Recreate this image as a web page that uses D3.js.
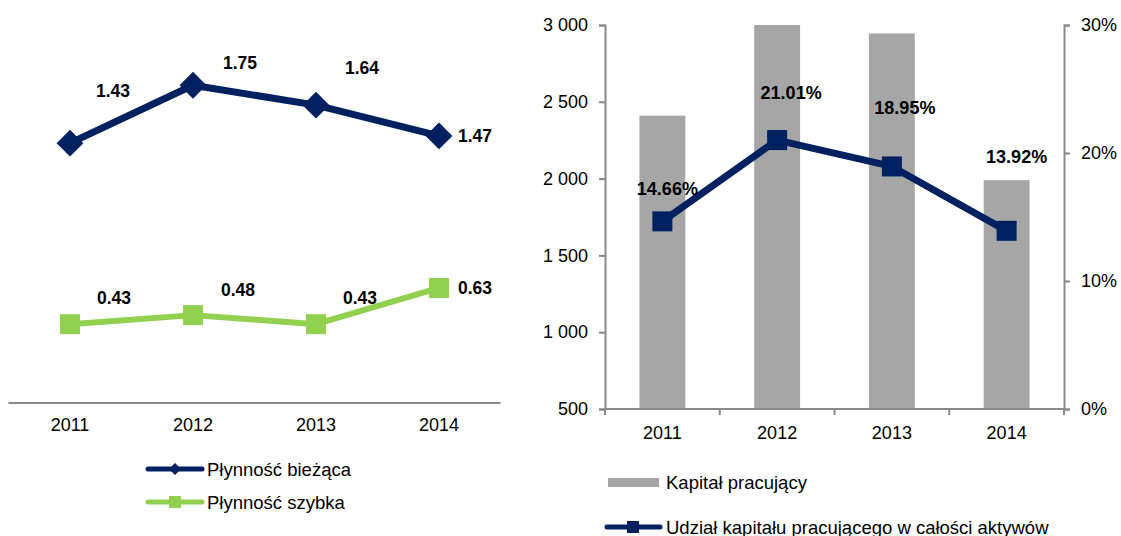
<!DOCTYPE html>
<html><head><meta charset="utf-8">
<script src="https://cdn.jsdelivr.net/npm/d3@7"></script>
<style>
html,body{margin:0;padding:0;background:#fff;}
svg{display:block;font-family:"Liberation Sans",Arial,sans-serif;}
</style></head>
<body>
<svg id="chart" width="1121" height="536"></svg>
<script>
// ---- data ----
const years = ["2011", "2012", "2013", "2014"];
const plynnoscBiezaca = [1.43, 1.75, 1.64, 1.47];
const plynnoscSzybka = [0.43, 0.48, 0.43, 0.63];
const kapitalPracujacy = [2410, 3000, 2945, 1990];
const udzialKapitalu = [0.1466, 0.2101, 0.1895, 0.1392];
const leftTicks = [500, 1000, 1500, 2000, 2500, 3000];
const rightTicks = [0, 0.1, 0.2, 0.3];
const seriesNames = ["Płynność bieżąca", "Płynność szybka", "Kapitał pracujący", "Udział kapitału pracującego w całości aktywów"];

// ---- layout (label offsets, px) ----
const offBiez = [[43,-52],[47,-22],[46,-37],[36,0]];
const offSzyb = [[44,-26],[45,-25],[44,-26],[36,0]];
const offUdz = [[5,-32],[14,-47],[13,-58],[10,-74]];

const navy = "#002060", green = "#92D050", barGrey = "#A6A6A6", axisGrey = "#898989";
const svg = d3.select("#chart");
const fmtSpace = d => d3.format(",")(d).replace(/,/g, " ");

// ===== LEFT CHART =====
const xL = d3.scaleBand().domain(years).range([8.5, 500.5]);
const yL = d3.scaleLinear().domain([0, 2]).range([402, 40]);
const gL = svg.append("g");
gL.append("line").attr("x1", 8.5).attr("x2", 500.5).attr("y1", 403).attr("y2", 403)
  .attr("stroke", axisGrey).attr("stroke-width", 2);
gL.selectAll("text.xl").data(years).join("text")
  .attr("x", d => xL(d) + xL.bandwidth()/2).attr("y", 425)
  .attr("text-anchor", "middle").attr("dominant-baseline", "central")
  .attr("font-size", 18).attr("fill", "#000").text(d => d);

const cx = (d,i) => xL(years[i]) + xL.bandwidth()/2;
const lineL = d3.line().x((d,i) => cx(d,i)).y(d => yL(d));
gL.append("path").datum(plynnoscBiezaca).attr("d", lineL)
  .attr("fill", "none").attr("stroke", navy).attr("stroke-width", 7).attr("stroke-linejoin", "round");
gL.append("path").datum(plynnoscSzybka).attr("d", lineL)
  .attr("fill", "none").attr("stroke", green).attr("stroke-width", 6).attr("stroke-linejoin", "round");
gL.selectAll("path.dia").data(plynnoscBiezaca).join("path")
  .attr("d", d3.symbol(d3.symbolSquare, 360)).attr("fill", navy)
  .attr("transform", (d,i) => `translate(${cx(d,i)},${yL(d)}) rotate(45)`);
gL.selectAll("rect.sq").data(plynnoscSzybka).join("rect")
  .attr("x", (d,i) => cx(d,i) - 10).attr("y", d => yL(d) - 10)
  .attr("width", 20).attr("height", 20).attr("fill", green);
gL.selectAll("text.lb").data(plynnoscBiezaca).join("text")
  .attr("x", (d,i) => cx(d,i) + offBiez[i][0]).attr("y", (d,i) => yL(d) + offBiez[i][1])
  .attr("text-anchor", "middle").attr("dominant-baseline", "central")
  .attr("font-size", 17.5).attr("font-weight", "bold").text(d => d.toFixed(2));
gL.selectAll("text.ls").data(plynnoscSzybka).join("text")
  .attr("x", (d,i) => cx(d,i) + offSzyb[i][0]).attr("y", (d,i) => yL(d) + offSzyb[i][1])
  .attr("text-anchor", "middle").attr("dominant-baseline", "central")
  .attr("font-size", 17.5).attr("font-weight", "bold").text(d => d.toFixed(2));

// left legend
const lg = svg.append("g");
lg.append("line").attr("x1", 148).attr("x2", 202).attr("y1", 469).attr("y2", 469)
  .attr("stroke", navy).attr("stroke-width", 5).attr("stroke-linecap", "round");
lg.append("path").attr("d", d3.symbol(d3.symbolSquare, 72)).attr("fill", navy)
  .attr("transform", "translate(175,469) rotate(45)");
lg.append("text").attr("x", 207).attr("y", 469).attr("dominant-baseline", "central")
  .attr("font-size", 18.5).text(seriesNames[0]);
lg.append("line").attr("x1", 148).attr("x2", 202).attr("y1", 502).attr("y2", 502)
  .attr("stroke", green).attr("stroke-width", 5).attr("stroke-linecap", "round");
lg.append("rect").attr("x", 169).attr("y", 496).attr("width", 12).attr("height", 12).attr("fill", green);
lg.append("text").attr("x", 207).attr("y", 502).attr("dominant-baseline", "central")
  .attr("font-size", 18.5).text(seriesNames[1]);

// ===== RIGHT CHART =====
const x0 = 605, x1 = 1064, yTop = 25, yBot = 409;
const xR = d3.scaleBand().domain(years).range([x0, x1]).paddingInner(0.6).paddingOuter(0.3);
const xRc = d3.scaleBand().domain(years).range([x0, x1]);
const yR = d3.scaleLinear().domain([500, 3000]).range([yBot, yTop]).clamp(true);
const yP = d3.scaleLinear().domain([0, 0.3]).range([yBot, yTop]);
const gR = svg.append("g");

gR.selectAll("rect.bar").data(kapitalPracujacy).join("rect")
  .attr("x", (d,i) => xR(years[i])).attr("width", xR.bandwidth())
  .attr("y", d => yR(d)).attr("height", d => yBot - yR(d)).attr("fill", barGrey);

// axes
const axL = d3.axisLeft(yR).tickValues(leftTicks).tickSize(6).tickPadding(11).tickFormat(fmtSpace);
const gax = gR.append("g").attr("transform", `translate(${x0},0)`).call(axL);
const axR = d3.axisRight(yP).tickValues(rightTicks).tickSize(6).tickPadding(11).tickFormat(d3.format(".0%"));
const gar = gR.append("g").attr("transform", `translate(${x1},0)`).call(axR);
const axB = d3.axisBottom(xRc).tickSize(0).tickPadding(24);
const gab = gR.append("g").attr("transform", `translate(0,${yBot})`).call(axB);
[gax, gar, gab].forEach(g => {
  g.select(".domain").attr("stroke", axisGrey).attr("stroke-width", 2);
  g.selectAll(".tick line").attr("stroke", axisGrey).attr("stroke-width", 2);
  g.selectAll(".tick text").attr("font-size", 18).attr("font-family", "Liberation Sans, Arial, sans-serif").attr("fill", "#000");
});
gab.selectAll(".tick text").attr("dy", null).attr("dominant-baseline", "central").attr("y", 24);
gab.select(".domain").attr("d", `M${x0},0H${x1}`);
gab.selectAll("line.sep").data(d3.range(years.length + 1)).join("line")
  .attr("x1", i => x0 + i * xRc.step()).attr("x2", i => x0 + i * xRc.step())
  .attr("y1", 0).attr("y2", 6).attr("stroke", axisGrey).attr("stroke-width", 2);

const cxR = i => xRc(years[i]) + xRc.bandwidth()/2;
gR.append("path").datum(udzialKapitalu)
  .attr("d", d3.line().x((d,i) => cxR(i)).y(d => yP(d)))
  .attr("fill", "none").attr("stroke", navy).attr("stroke-width", 7).attr("stroke-linejoin", "round");
gR.selectAll("rect.msq").data(udzialKapitalu).join("rect")
  .attr("x", (d,i) => cxR(i) - 10).attr("y", d => yP(d) - 10)
  .attr("width", 20).attr("height", 20).attr("fill", navy);
gR.selectAll("text.pl").data(udzialKapitalu).join("text")
  .attr("x", (d,i) => cxR(i) + offUdz[i][0]).attr("y", (d,i) => yP(d) + offUdz[i][1])
  .attr("text-anchor", "middle").attr("dominant-baseline", "central")
  .attr("font-size", 18).attr("font-weight", "bold").text(d => d3.format(".2%")(d));

// right legend
const rg = svg.append("g");
rg.append("rect").attr("x", 608).attr("y", 478).attr("width", 51).attr("height", 9).attr("fill", barGrey);
rg.append("text").attr("x", 666).attr("y", 482).attr("dominant-baseline", "central")
  .attr("font-size", 18.5).text(seriesNames[2]);
rg.append("line").attr("x1", 607).attr("x2", 660).attr("y1", 527).attr("y2", 527)
  .attr("stroke", navy).attr("stroke-width", 5).attr("stroke-linecap", "round");
rg.append("rect").attr("x", 627).attr("y", 521).attr("width", 12).attr("height", 12).attr("fill", navy);
rg.append("text").attr("x", 666).attr("y", 527).attr("dominant-baseline", "central")
  .attr("font-size", 18.5).text(seriesNames[3]);
</script>
</body></html>
